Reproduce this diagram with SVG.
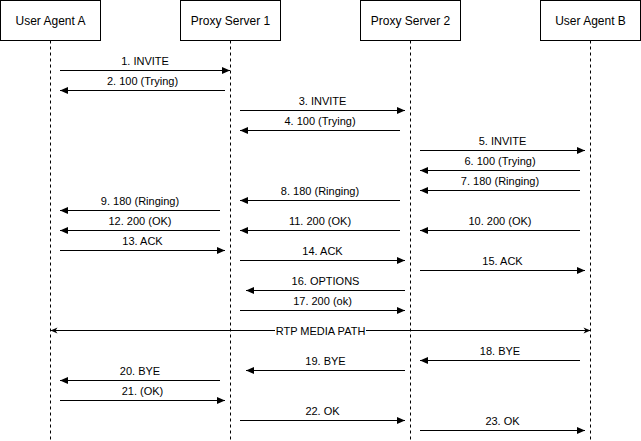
<svg xmlns="http://www.w3.org/2000/svg" width="641" height="441" viewBox="0 0 641 441">
<defs>
<marker id="block" markerUnits="userSpaceOnUse" markerWidth="8" markerHeight="8" refX="8" refY="4" orient="auto" overflow="visible">
<path d="M0,0.5 L8,4 L0,7.5 Z" fill="#000"/>
</marker>
<marker id="classic" markerUnits="userSpaceOnUse" markerWidth="8" markerHeight="7" refX="7" refY="3.5" orient="auto-start-reverse" overflow="visible">
<path d="M0,0.5 L7,3.5 L0,6.5 L2,3.5 Z" fill="#000"/>
</marker>
</defs>
<style>
.box{fill:#fff;stroke:#000;stroke-width:1}
.life{stroke:#000;stroke-width:1;stroke-dasharray:3 3;fill:none}
.msg{stroke:#000;stroke-width:1;fill:none;marker-end:url(#block)}
.rtp{stroke:#000;stroke-width:1;fill:none;marker-start:url(#classic);marker-end:url(#classic)}
.nt{font-family:"Liberation Sans",Arial,Helvetica,sans-serif;font-size:12px;fill:#000;text-anchor:middle}
.lb{font-family:"Liberation Sans",Arial,Helvetica,sans-serif;font-size:11px;fill:#000;text-anchor:middle}
</style>
<rect width="641" height="441" fill="#fff"/>
<g id="lifelines">
<line class="life" x1="50.5" y1="40.5" x2="50.5" y2="441"/>
<line class="life" x1="230.5" y1="40.5" x2="230.5" y2="441"/>
<line class="life" x1="410.5" y1="40.5" x2="410.5" y2="441"/>
<line class="life" x1="590.5" y1="40.5" x2="590.5" y2="441"/>
</g>
<g id="ua-a"><rect class="box" x="0.5" y="0.5" width="100" height="40"/><text class="nt" x="50.5" y="25">User Agent A</text></g>
<g id="proxy-1"><rect class="box" x="180.5" y="0.5" width="100" height="40"/><text class="nt" x="230.5" y="25">Proxy Server 1</text></g>
<g id="proxy-2"><rect class="box" x="360.5" y="0.5" width="100" height="40"/><text class="nt" x="410.5" y="25">Proxy Server 2</text></g>
<g id="ua-b"><rect class="box" x="540.5" y="0.5" width="100" height="40"/><text class="nt" x="590.5" y="25">User Agent B</text></g>
<g id="connectors">
<line class="msg" x1="60" y1="70.5" x2="230" y2="70.5"/><text class="lb" x="145" y="65">1. INVITE</text>
<line class="msg" x1="225" y1="90.5" x2="60" y2="90.5"/><text class="lb" x="142.5" y="85">2. 100 (Trying)</text>
<line class="msg" x1="240" y1="110.5" x2="405" y2="110.5"/><text class="lb" x="322.5" y="105">3. INVITE</text>
<line class="msg" x1="400" y1="130.5" x2="240" y2="130.5"/><text class="lb" x="320" y="125">4. 100 (Trying)</text>
<line class="msg" x1="420" y1="150.5" x2="585" y2="150.5"/><text class="lb" x="502.5" y="145">5. INVITE</text>
<line class="msg" x1="580" y1="170.5" x2="420" y2="170.5"/><text class="lb" x="500" y="165">6. 100 (Trying)</text>
<line class="msg" x1="580" y1="190.5" x2="420" y2="190.5"/><text class="lb" x="500" y="185">7. 180 (Ringing)</text>
<line class="msg" x1="400" y1="200.5" x2="240" y2="200.5"/><text class="lb" x="320" y="195">8. 180 (Ringing)</text>
<line class="msg" x1="220" y1="210.5" x2="60" y2="210.5"/><text class="lb" x="140" y="205">9. 180 (Ringing)</text>
<line class="msg" x1="580" y1="230.5" x2="420" y2="230.5"/><text class="lb" x="500" y="225">10. 200 (OK)</text>
<line class="msg" x1="400" y1="230.5" x2="240" y2="230.5"/><text class="lb" x="320" y="225">11. 200 (OK)</text>
<line class="msg" x1="220" y1="230.5" x2="60" y2="230.5"/><text class="lb" x="140" y="225">12. 200 (OK)</text>
<line class="msg" x1="60" y1="250.5" x2="225" y2="250.5"/><text class="lb" x="142.5" y="245">13. ACK</text>
<line class="msg" x1="240" y1="260.5" x2="405" y2="260.5"/><text class="lb" x="322.5" y="255">14. ACK</text>
<line class="msg" x1="420" y1="270.5" x2="585" y2="270.5"/><text class="lb" x="502.5" y="265">15. ACK</text>
<line class="msg" x1="405" y1="290.5" x2="246" y2="290.5"/><text class="lb" x="325.5" y="285">16. OPTIONS</text>
<line class="msg" x1="240" y1="310.5" x2="405" y2="310.5"/><text class="lb" x="322.5" y="305">17. 200 (ok)</text>
<line class="rtp" x1="50.5" y1="330.5" x2="590.5" y2="330.5"/>
<rect x="275" y="323" width="91" height="15" fill="#fff"/>
<text class="lb" x="320.5" y="334.5">RTP MEDIA PATH</text>
<line class="msg" x1="580" y1="360.5" x2="420" y2="360.5"/><text class="lb" x="500" y="355">18. BYE</text>
<line class="msg" x1="405" y1="370.5" x2="246" y2="370.5"/><text class="lb" x="325.5" y="365">19. BYE</text>
<line class="msg" x1="220" y1="380.5" x2="60" y2="380.5"/><text class="lb" x="140" y="375">20. BYE</text>
<line class="msg" x1="60" y1="400.5" x2="225" y2="400.5"/><text class="lb" x="142.5" y="395">21. (OK)</text>
<line class="msg" x1="240" y1="420.5" x2="405" y2="420.5"/><text class="lb" x="322.5" y="415">22. OK</text>
<line class="msg" x1="420" y1="430.5" x2="585" y2="430.5"/><text class="lb" x="502.5" y="425">23. OK</text>
</g>
</svg>
